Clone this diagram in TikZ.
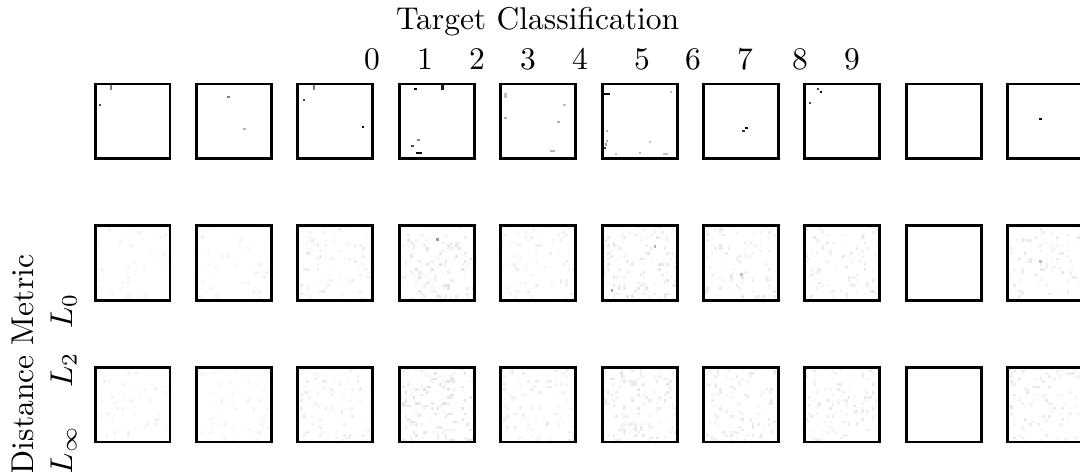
\documentclass[tikz,border=0pt]{standalone}
\newcommand\pxat[6]{\fill[#1] ({95+101.4*#2+#3},{84+#4}) rectangle ++(#5,#6);}
\newcommand\pxrow[7]{\fill[#1] ({95+101.4*#2+#3},{#7+#4}) rectangle ++(#5,#6);}
\newcommand\noisebox[4]{%
  \foreach \k in {1,...,#3}{%
    \pgfmathsetmacro\ii{int(random(0,27))}%
    \pgfmathsetmacro\jj{int(random(0,27))}%
    \pgfmathsetmacro\ss{int(random(2,#4))}%
    \fill[black!\ss] ({95+101.4*#1+\ii*2.68},{#2+\jj*2.68}) rectangle ++(2.68,2.68);
  }}
\begin{document}
\begin{tikzpicture}[x=0.3175pt,y=-0.3175pt,
  imgbox/.style={draw=black,line width=0.95pt,minimum width=23.81pt,minimum height=23.81pt,inner sep=0pt},
  lbl/.style={inner sep=0pt,anchor=base},
  rlbl/.style={inner sep=0pt,anchor=base,rotate=90}]
\useasboundingbox (0,0) rectangle (1080,472);
\clip (0,0) rectangle (1080,472);
\pgfmathsetseed{1234}
% titles
\node[lbl] (title) at (537.5,30) {Target Classification};
\foreach \d/\x in {0/372,1/425,2/477,3/528,4/580,5/642,6/693,7/745,8/800,9/852}{
  \node[lbl] (d\d) at (\x,70) {\d};
}
\node[rlbl] (metric) at (33,364.5) {Distance Metric};
\node[rlbl] (l0) at (72,311) {$L_0$};
\node[rlbl] (l2) at (72,370) {$L_2$};
\node[rlbl] (linf) at (72,450) {$L_\infty$};
% row 1 pixels
\pxat{black!50}{0}{14.7}{1}{2.7}{5}
\pxat{black!70}{0}{3.7}{19.7}{2.7}{2.7}
\pxat{black!50}{1}{30.7}{11.7}{2.7}{2.7}
\pxat{black!30}{1}{46.7}{43.7}{2.7}{2.7}
\pxat{black!50}{2}{14.7}{1.5}{2.7}{5}
\pxat{black!75}{2}{4.7}{14.7}{2.7}{2.7}
\pxat{black!95}{2}{63.7}{41.7}{2.7}{2.7}
\pxat{black!95}{3}{14.7}{3.7}{2.7}{2.7}
\pxat{black!90}{3}{41.7}{1.5}{2.7}{5}
\pxat{black!45}{3}{17.7}{54.7}{2.7}{2.7}
\pxat{black!70}{3}{11.7}{60.7}{2.7}{2.7}
\pxat{black!95}{3}{17}{67.7}{6}{2.7}
\pxat{black!25}{4}{3.7}{9.5}{2.7}{5}
\pxat{black!30}{4}{3.7}{32.7}{2.7}{2.7}
\pxat{black!25}{4}{62.7}{19.7}{2.7}{2.7}
\pxat{black!30}{4}{56.7}{36.7}{2.7}{2.7}
\pxat{black!30}{4}{49.5}{65.7}{5}{2.7}
\pxat{black!95}{5}{0}{8.7}{8}{2.7}
\pxat{black!25}{5}{67.7}{6.7}{2.7}{2.7}
\pxat{black!30}{5}{3.7}{45.7}{2.7}{2.7}
\pxat{black!30}{5}{3.7}{55.7}{2.7}{2.7}
\pxat{black!40}{5}{2.7}{59}{2.7}{2.7}
\pxat{black!80}{5}{1.7}{62.7}{2.7}{2.7}
\pxat{black!25}{5}{12.7}{68.7}{2.7}{2.7}
\pxat{black!25}{5}{46.7}{56.7}{2.7}{2.7}
\pxat{black!25}{5}{36.7}{67.7}{2.7}{2.7}
\pxat{black!25}{5}{60.5}{68.7}{5}{2.7}
\pxat{black!95}{6}{41.7}{42.7}{2.7}{2.7}
\pxat{black!80}{6}{38.7}{45.7}{2.7}{2.7}
\pxat{black!75}{7}{11.7}{3.7}{2.7}{2.7}
\pxat{black!95}{7}{14.7}{6.7}{2.7}{2.7}
\pxat{black!70}{7}{3.7}{17.7}{2.7}{2.7}
\pxat{black!95}{9}{31.7}{33.7}{2.7}{2.7}
% rows 2 and 3 faint noise
\foreach \c/\na/\nb/\m in {0/40/45/6,1/40/45/6,2/90/110/8,3/150/170/11,4/80/90/8,5/140/160/10,6/100/120/9,7/100/120/9,9/100/120/9}{
  \noisebox{\c}{225.5}{\na}{\m}
  \noisebox{\c}{367}{\nb}{\m}
}
\pxrow{black!40}{3}{36.7}{12.7}{2.7}{2.7}{225.5}
\pxrow{black!30}{5}{51.7}{19.7}{2.7}{2.7}{225.5}
\pxrow{black!35}{5}{8.7}{63.7}{2.7}{2.7}{225.5}
\pxrow{black!25}{6}{36.7}{47.7}{2.7}{2.7}{225.5}
\pxrow{black!25}{9}{31.7}{34.7}{2.7}{2.7}{225.5}
% frames
\foreach \c in {0,...,9}{
  \foreach[count=\r] \t in {84,225.5,367}{
    \node[imgbox] (b\r-\c) at ({132.5+101.4*\c},{\t+37.5}) {};
  }
}
\end{tikzpicture}
\end{document}
